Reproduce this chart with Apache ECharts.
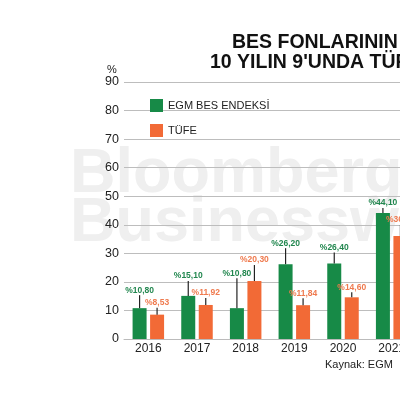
<!DOCTYPE html>
<html><head><meta charset="utf-8">
<script src="https://cdn.jsdelivr.net/npm/echarts@6/dist/echarts.min.js"></script>
<style>html,body{margin:0;padding:0;background:#fff;overflow:hidden;width:400px;height:400px}#c{width:420px;height:400px}</style>
</head><body><div id="c"></div>
<script>
const years = ['2016','2017','2018','2019','2020','2021'];
const egm = [10.80, 15.10, 10.80, 26.20, 26.40, 44.10];
const tufe = [8.53, 11.92, 20.30, 11.84, 14.60, 36.08];
const yTicks = [0,10,20,30,40,50,60,70,80,90];
// label lift (px above bar top) – style only
const egmLift = [18, 20, 35, 21, 16, 10];
const tufeLift = [12, 12, 21, 12, 10, 16];

const GREEN = '#178a47', ORANGE = '#f26a36';
const GREEN_T = '#22874f', ORANGE_T = '#ef7a4e';
const BAR_W = 14, GAP = 3.5;

function fmt(v){ return '%' + v.toFixed(2).replace('.', ','); }

function labelSeries(name, vals, lifts, color, dir){
  return {
    type: 'custom', name: name + '_lbl', z: 5, silent: true,
    data: vals.map((v,i)=>[i, v]),
    renderItem: function(params, api){
      const i = api.value(0), v = api.value(1);
      const p = api.coord([i, v]);
      const x = p[0] + dir * (BAR_W + GAP) / 2;
      const lift = lifts[i];
      return {
        type: 'group',
        children: [
          {type:'line', shape:{x1:x, y1:p[1], x2:x, y2:p[1]-lift+5}, style:{stroke:'#222', lineWidth:1.2}},
          {type:'text', style:{x:x, y:p[1]-lift, text: fmt(vals[i]), fill: color, font: 'bold 8.5px "Liberation Sans", Arial, sans-serif', textAlign:'center', textVerticalAlign:'middle'}}
        ]
      };
    }
  };
}

const chart = echarts.init(document.getElementById('c'), null, {renderer:'canvas'});
chart.setOption({
  animation: false,
  backgroundColor: '#fff',
  textStyle: {fontFamily: '"Liberation Sans", Arial, sans-serif'},
  grid: {left: 124, right: 4, top: 82, bottom: 61, containLabel: false},
  legend: {
    data: ['EGM BES ENDEKSİ', 'TÜFE'],
    orient: 'vertical', left: 145, top: 94,
    itemWidth: 13, itemHeight: 13, itemGap: 12, icon: 'rect',
    backgroundColor: 'transparent',
    textStyle: {fontSize: 11, color: '#222'}
  },
  xAxis: {
    type: 'category', data: years,
    axisLine: {show: true, lineStyle: {color: '#bbb', width: 1}},
    axisTick: {show: false},
    axisLabel: {fontSize: 12, color: '#222', margin: 4}
  },
  yAxis: {
    type: 'value', min: 0, max: 90, interval: 10,
    axisLine: {show: false}, axisTick: {show: false},
    axisLabel: {fontSize: 12.5, color: '#222', margin: 5, formatter: v => yTicks.includes(v) ? String(v) : ''},
    splitLine: {lineStyle: {color: '#bdbdbd', width: 1}}
  },
  graphic: [
    {type:'text', left: 70, top: 143, z: -100, silent:true, style:{text:'Bloomberg', fill:'#efefef', font:'bold 63px "Liberation Sans", Arial, sans-serif'}},
    {type:'text', left: 70, top: 192, z: -100, silent:true, style:{text:'Businessweek', fill:'#efefef', font:'bold 63px "Liberation Sans", Arial, sans-serif'}},
    {type:'text', left: 232, top: 33, style:{text:'BES FONLARININ', fill:'#111', font:'bold 19.5px "Liberation Sans", Arial, sans-serif'}},
    {type:'text', left: 210, top: 53, style:{text:"10 YILIN 9'UNDA TÜFE", fill:'#111', font:'bold 19.5px "Liberation Sans", Arial, sans-serif'}},
    {type:'text', left: 107, top: 64, style:{text:'%', fill:'#222', font:'11px "Liberation Sans", Arial, sans-serif'}},
    {type:'text', left: 325, top: 359, style:{text:'Kaynak: EGM', fill:'#222', font:'11px "Liberation Sans", Arial, sans-serif'}}
  ],
  series: [
    {name:'EGM BES ENDEKSİ', type:'bar', data: egm, barWidth: BAR_W, barGap: (GAP/BAR_W*100)+'%', itemStyle:{color: GREEN}, z: 3},
    {name:'TÜFE', type:'bar', data: tufe, barWidth: BAR_W, itemStyle:{color: ORANGE}, z: 3},
    labelSeries('EGM BES ENDEKSİ', egm, egmLift, GREEN_T, -1),
    labelSeries('TÜFE', tufe, tufeLift, ORANGE_T, 1)
  ]
});
</script></body></html>
